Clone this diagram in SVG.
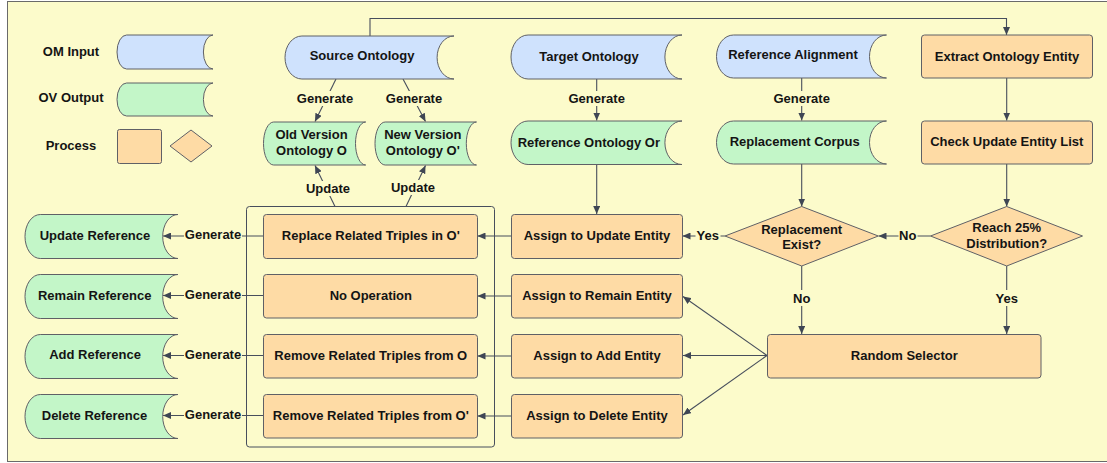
<svg xmlns="http://www.w3.org/2000/svg" width="1107" height="463" viewBox="0 0 1107 463">
<style>
text{font-family:"Liberation Sans",Arial,sans-serif;font-weight:bold;font-size:13px;fill:#141414;text-anchor:middle}
.blue{fill:#cfe2fd;stroke:#5f6066;stroke-width:1}
.green{fill:#c3f6c8;stroke:#5f6066;stroke-width:1}
.proc{fill:#fedba5;stroke:#5f6066;stroke-width:1}
.con{fill:none;stroke:#474e5c;stroke-width:1.1}
.arr{marker-end:url(#ah)}
.lb{fill:#fcfbcb}
</style>
<defs>
<marker id="ah" markerWidth="8" markerHeight="7" refX="8" refY="3.5" orient="auto" markerUnits="userSpaceOnUse">
<path d="M0,0 L8,3.5 L0,7 Z" fill="#3f4654"/>
</marker>
</defs>
<rect x="7.5" y="1.5" width="1102" height="460" fill="#fcfbcb" stroke="#6a6a6a" stroke-width="1"/>

<g id="legend">
<text x="71" y="55.5">OM Input</text>
<text x="71" y="102">OV Output</text>
<text x="71" y="149.5">Process</text>
<path class="blue" d="M126.6,35 L213,35 A9.6,17 0 0 0 213,69 L126.6,69 A9.6,17 0 0 1 126.6,35 Z"/>
<path class="green" d="M126.6,83 L213,83 A9.6,16.5 0 0 0 213,116 L126.6,116 A9.6,16.5 0 0 1 126.6,83 Z"/>
<rect class="proc" x="117.5" y="129.5" width="44" height="34" rx="2"/>
<path class="proc" d="M170,146 L191,130 L212,146 L191,162 Z" stroke-linejoin="round"/>
</g>

<g id="connectors">
<path class="con arr" d="M370,36 V18.5 H1006.5 V35"/>
<line class="con arr" x1="336" y1="79" x2="315" y2="121.5"/>
<line class="con arr" x1="403" y1="79" x2="425.5" y2="121.5"/>
<line class="con arr" x1="335" y1="206.5" x2="315" y2="165.5"/>
<line class="con arr" x1="406" y1="206.5" x2="425.5" y2="165.5"/>
<line class="con arr" x1="596.7" y1="79" x2="596.7" y2="120.5"/>
<line class="con arr" x1="801.7" y1="78" x2="801.7" y2="120.5"/>
<line class="con arr" x1="1006.7" y1="78" x2="1006.7" y2="120.5"/>
<line class="con arr" x1="596.7" y1="164.5" x2="596.7" y2="214"/>
<line class="con arr" x1="801.7" y1="164" x2="801.7" y2="206.5"/>
<line class="con arr" x1="1006.7" y1="164" x2="1006.7" y2="206.5"/>
<line class="con arr" x1="930.5" y1="236" x2="878.5" y2="236"/>
<line class="con arr" x1="725" y1="236" x2="682.5" y2="236"/>
<line class="con arr" x1="801.7" y1="266" x2="801.7" y2="334"/>
<line class="con arr" x1="1006.7" y1="266" x2="1006.7" y2="334"/>
<line class="con arr" x1="767" y1="355.5" x2="683" y2="296.5"/>
<line class="con arr" x1="767" y1="355.5" x2="683" y2="355.5"/>
<line class="con arr" x1="767" y1="355.5" x2="683" y2="415"/>
<line class="con arr" x1="511.5" y1="236" x2="477.5" y2="236"/>
<line class="con arr" x1="511.5" y1="296" x2="477.5" y2="296"/>
<line class="con arr" x1="511.5" y1="356" x2="477.5" y2="356"/>
<line class="con arr" x1="511.5" y1="416" x2="477.5" y2="416"/>
<line class="con arr" x1="263.5" y1="236" x2="163" y2="236"/>
<line class="con arr" x1="263.5" y1="295.5" x2="163" y2="295.5"/>
<line class="con arr" x1="263.5" y1="355.5" x2="163" y2="355.5"/>
<line class="con arr" x1="263.5" y1="415.5" x2="163" y2="415.5"/>
<rect class="lb" x="296" y="91" width="58" height="15"/>
<text x="325" y="102.5">Generate</text>
<rect class="lb" x="385" y="91" width="58" height="15"/>
<text x="414" y="102.5">Generate</text>
<rect class="lb" x="305" y="181" width="46" height="15"/>
<text x="328" y="192.5">Update</text>
<rect class="lb" x="390" y="180" width="46" height="15"/>
<text x="413" y="191.5">Update</text>
<rect class="lb" x="567.7" y="91" width="58" height="15"/>
<text x="596.7" y="102.5">Generate</text>
<rect class="lb" x="772.7" y="91" width="58" height="15"/>
<text x="801.7" y="102.5">Generate</text>
<rect class="lb" x="184" y="228" width="58" height="15"/>
<text x="213" y="239">Generate</text>
<rect class="lb" x="184" y="287.5" width="58" height="15"/>
<text x="213" y="298.5">Generate</text>
<rect class="lb" x="184" y="347.5" width="58" height="15"/>
<text x="213" y="358.5">Generate</text>
<rect class="lb" x="184" y="407.5" width="58" height="15"/>
<text x="213" y="418.5">Generate</text>
<rect class="lb" x="695.5" y="228" width="25" height="15"/>
<text x="707.7" y="239.5">Yes</text>
<rect class="lb" x="898.5" y="228" width="19" height="15"/>
<text x="907.7" y="239.5">No</text>
<rect class="lb" x="791" y="290" width="21" height="16"/>
<text x="801.7" y="302.5">No</text>
<rect class="lb" x="994" y="290" width="25" height="16"/>
<text x="1006.7" y="302.5">Yes</text>
</g>

<g id="source-ontology">
<path class="blue" d="M301.9,36 L454,36 A16.9,21.5 0 0 0 454,79 L301.9,79 A16.9,21.5 0 0 1 301.9,36 Z"/>
<text x="362" y="60">Source Ontology</text>
</g>
<g id="target-ontology">
<path class="blue" d="M528.1,35 L682,35 A17.1,22 0 0 0 682,79 L528.1,79 A17.1,22 0 0 1 528.1,35 Z"/>
<text x="589" y="60.5">Target Ontology</text>
</g>
<g id="reference-alignment">
<path class="blue" d="M733.5,35 L886.5,35 A17,21.5 0 0 0 886.5,78 L733.5,78 A17,21.5 0 0 1 733.5,35 Z"/>
<text x="793" y="59">Reference Alignment</text>
</g>
<g id="extract-entity">
<rect class="proc" x="921.5" y="35" width="171" height="43" rx="3"/>
<text x="1007" y="60.5">Extract Ontology Entity</text>
</g>

<g id="old-version">
<path class="green" d="M273.7,122 L365.7,122 A10.2,21.5 0 0 0 365.7,165 L273.7,165 A10.2,21.5 0 0 1 273.7,122 Z"/>
<text x="311.5" y="138.5">Old Version</text>
<text x="311.5" y="154.5">Ontology O</text>
</g>
<g id="new-version">
<path class="green" d="M385.2,122 L476.5,122 A10.2,21.5 0 0 0 476.5,165 L385.2,165 A10.2,21.5 0 0 1 385.2,122 Z"/>
<text x="422.8" y="138.5">New Version</text>
<text x="422.8" y="154.5">Ontology O'</text>
</g>
<g id="reference-ontology">
<path class="green" d="M528.1,121 L682,121 A17.1,21.75 0 0 0 682,164.5 L528.1,164.5 A17.1,21.75 0 0 1 528.1,121 Z"/>
<text x="588.8" y="146.5">Reference Ontology Or</text>
</g>
<g id="replacement-corpus">
<path class="green" d="M733.5,121 L886.5,121 A17,21.5 0 0 0 886.5,164 L733.5,164 A17,21.5 0 0 1 733.5,121 Z"/>
<text x="794.7" y="145.5">Replacement Corpus</text>
</g>
<g id="check-update">
<rect class="proc" x="921.5" y="121" width="171" height="43" rx="3"/>
<text x="1006.8" y="145.5">Check Update Entity List</text>
</g>

<g id="replacement-exist">
<path class="proc" d="M725,236 L801.7,206.5 L878.3,236 L801.7,266 Z" stroke-linejoin="round"/>
<text x="801.7" y="233.5">Replacement</text>
<text x="801.7" y="248.5">Exist?</text>
</g>
<g id="reach-distribution">
<path class="proc" d="M930.5,236 L1006.7,206.5 L1082.5,236 L1006.7,266 Z" stroke-linejoin="round"/>
<text x="1006.7" y="231.5">Reach 25%</text>
<text x="1006.7" y="247.5">Distribution?</text>
</g>

<g id="operations-group">
<rect x="246.5" y="206.5" width="248" height="240.5" rx="3" fill="none" stroke="#474e5c" stroke-width="1"/>
</g>
<g id="replace-triples">
<rect class="proc" x="263.5" y="214.5" width="214" height="44" rx="3"/>
<text x="370.8" y="239.5">Replace Related Triples in O'</text>
</g>
<g id="no-operation">
<rect class="proc" x="263.5" y="274.5" width="214" height="43.5" rx="3"/>
<text x="370.8" y="299.5">No Operation</text>
</g>
<g id="remove-from-o">
<rect class="proc" x="263.5" y="334.5" width="214" height="43.5" rx="3"/>
<text x="370.8" y="359.5">Remove Related Triples from O</text>
</g>
<g id="remove-from-o-prime">
<rect class="proc" x="263.5" y="394.5" width="214" height="43.5" rx="3"/>
<text x="370.8" y="419.5">Remove Related Triples from O'</text>
</g>

<g id="assign-update">
<rect class="proc" x="511.5" y="214.5" width="171" height="44" rx="3"/>
<text x="597" y="239.5">Assign to Update Entity</text>
</g>
<g id="assign-remain">
<rect class="proc" x="511.5" y="274.5" width="171" height="43.5" rx="3"/>
<text x="597" y="299.5">Assign to Remain Entity</text>
</g>
<g id="assign-add">
<rect class="proc" x="511.5" y="334.5" width="171" height="43.5" rx="3"/>
<text x="597" y="359.5">Assign to Add Entity</text>
</g>
<g id="assign-delete">
<rect class="proc" x="511.5" y="394.5" width="171" height="43.5" rx="3"/>
<text x="597" y="419.5">Assign to Delete Entity</text>
</g>

<g id="random-selector">
<rect class="proc" x="767.5" y="334.5" width="273.5" height="43.5" rx="3"/>
<text x="904.3" y="359.5">Random Selector</text>
</g>

<g id="update-reference">
<path class="green" d="M40.3,214.5 L178,214.5 A15.3,22 0 0 0 178,258.5 L40.3,258.5 A15.3,22 0 0 1 40.3,214.5 Z"/>
<text x="95" y="239.5">Update Reference</text>
</g>
<g id="remain-reference">
<path class="green" d="M40.3,274.5 L178,274.5 A15.3,22 0 0 0 178,318.5 L40.3,318.5 A15.3,22 0 0 1 40.3,274.5 Z"/>
<text x="94.7" y="299.5">Remain Reference</text>
</g>
<g id="add-reference">
<path class="green" d="M40.3,334.5 L178,334.5 A15.3,22 0 0 0 178,378.5 L40.3,378.5 A15.3,22 0 0 1 40.3,334.5 Z"/>
<text x="95" y="359">Add Reference</text>
</g>
<g id="delete-reference">
<path class="green" d="M40.3,394.5 L178,394.5 A15.3,22 0 0 0 178,438.5 L40.3,438.5 A15.3,22 0 0 1 40.3,394.5 Z"/>
<text x="94.5" y="419.5">Delete Reference</text>
</g>
</svg>
